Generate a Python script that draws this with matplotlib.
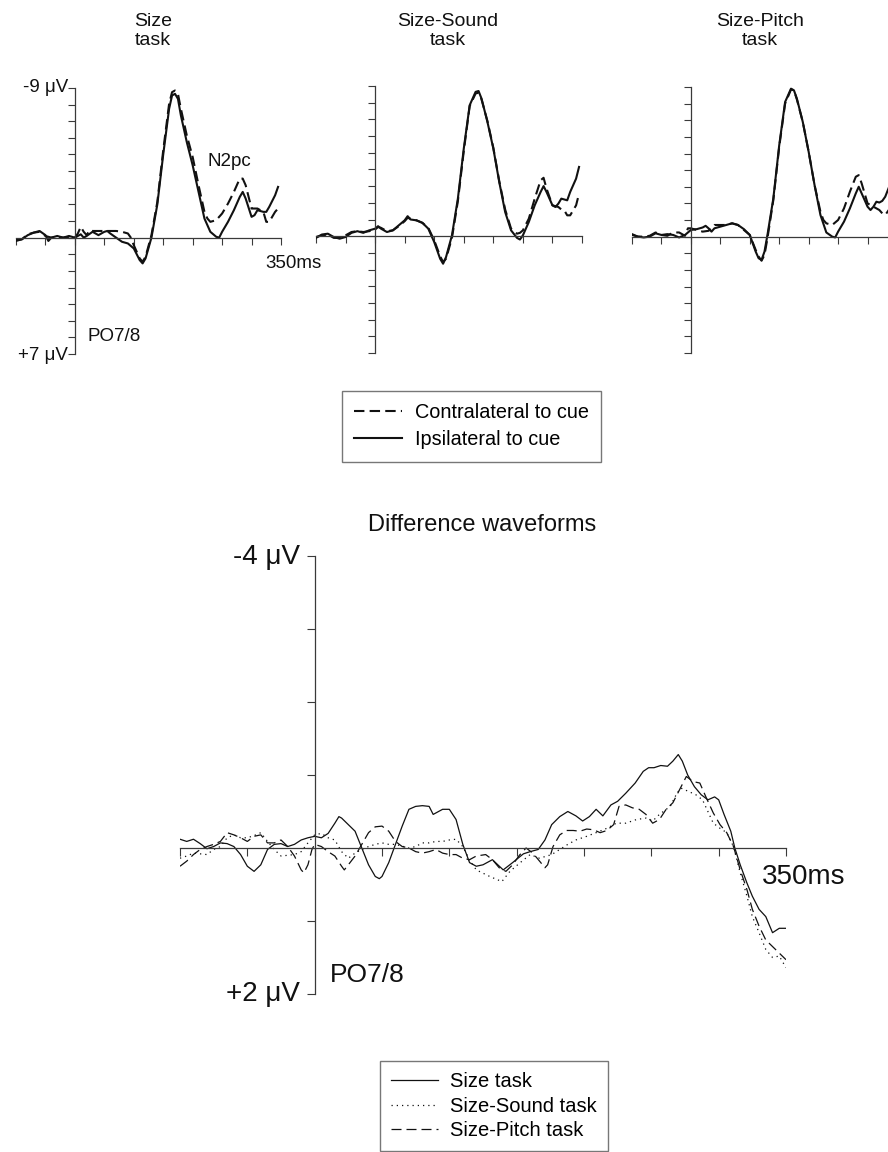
import matplotlib
matplotlib.use('Agg')
import matplotlib.pyplot as plt
import numpy as np

plt.rcParams['font.family'] = ['Liberation Sans', 'DejaVu Sans']

W, H = 888, 1152
INK = '#111111'
AXC = '#3a3a3a'

# ---- top panels: grand average ERPs at PO7/8 (uV, negative up) ----
# Size task
t_size_ipsi = [-100, -90, -80, -70, -60, -50, -45, -40, -30, -20, -10, 0, 10, 15, 20, 30, 40, 50, 55, 60,
               70, 80, 90, 100, 110, 115, 120, 130, 140, 150, 160, 165, 170, 175, 180, 190, 200, 210, 220, 230,
               240, 245, 250, 260, 270, 280, 285, 290, 300, 305, 310, 320, 325, 330, 340, 345]
size_ipsi = [0.2, 0.1, -0.15, -0.3, -0.4, -0.15, 0.2, 0, -0.1, 0, -0.1, 0, -0.2, 0, -0.1, -0.35, -0.15, -0.35, -0.4, -0.25,
             0, 0.25, 0.35, 0.65, 1.35, 1.55, 1.25, 0, -2.0, -5.0, -7.75, -8.55, -8.65, -8.35, -7.35, -5.75, -4.35, -2.75, -1.15, -0.35,
             -0.05, 0, -0.35, -0.95, -1.65, -2.45, -2.75, -2.35, -1.25, -1.35, -1.65, -1.55, -1.55, -1.85, -2.55, -3.05]
t_size_contra = [-100, -90, -80, -70, -60, -50, -40, -30, -20, -10, 0, 5, 10, 15, 20, 25, 30, 40, 50, 60,
                 70, 80, 90, 95, 100, 110, 115, 120, 130, 140, 150, 160, 165, 170, 175, 180, 190, 200, 210, 220,
                 225, 230, 240, 250, 260, 270, 280, 285, 290, 300, 310, 320, 325, 330, 340, 345]
size_contra = [0.15, 0.1, -0.2, -0.3, -0.35, -0.1, 0, -0.05, 0, -0.05, 0, -0.25, -0.65, -0.35, -0.15, -0.45, -0.4, -0.4, -0.4, -0.4,
               -0.4, -0.35, -0.25, 0, 0.45, 1.25, 1.45, 1.15, -0.15, -2.15, -5.25, -8.05, -8.75, -8.85, -8.65, -7.75, -6.15, -4.85, -3.15, -1.55,
               -1.15, -0.95, -1.05, -1.45, -2.05, -2.75, -3.55, -3.55, -3.15, -1.75, -1.75, -1.55, -0.95, -0.95, -1.55, -1.75]

# Size-Sound task
t_sound = [-100, -90, -80, -70, -60, -50, -40, -30, -20, -10, 0, 5, 10, 20, 30, 40, 50, 55, 60, 70,
           80, 90, 100, 110, 115, 120, 130, 140, 150, 160, 170, 175, 180, 190, 200, 210, 220, 230, 240, 245,
           250, 260, 270, 280, 285, 290, 300, 305, 310, 315, 320, 325, 330, 340, 345]
sound_ipsi = [0.1, -0.1, -0.15, 0.05, 0.15, 0.05, -0.2, -0.3, -0.2, -0.35, -0.45, -0.6, -0.45, -0.25, -0.35, -0.65, -0.95, -1.2, -1.0, -0.95,
              -0.8, -0.45, 0.35, 1.35, 1.65, 1.25, -0.05, -2.25, -5.25, -7.85, -8.65, -8.7, -8.25, -6.85, -5.25, -3.25, -1.45, -0.35, 0.1, 0.2,
              -0.05, -0.85, -1.85, -2.65, -3.0, -2.65, -1.85, -1.75, -1.95, -2.25, -2.2, -2.15, -2.65, -3.45, -4.15]
sound_contra = [0.05, -0.05, -0.1, 0.1, 0.1, -0.05, -0.25, -0.3, -0.25, -0.3, -0.4, -0.55, -0.5, -0.3, -0.35, -0.6, -0.9, -1.1, -1.05, -0.95,
                -0.8, -0.5, 0.25, 1.2, 1.55, 1.35, 0.1, -2.1, -5.1, -7.8, -8.55, -8.6, -8.2, -6.9, -5.3, -3.3, -1.6, -0.45, -0.15, -0.2,
                -0.35, -1.05, -2.25, -3.35, -3.5, -2.85, -1.85, -1.8, -1.75, -1.6, -1.55, -1.25, -1.25, -1.85, -2.55]

# Size-Pitch task
t_pitch_ipsi = [-100, -90, -80, -70, -60, -50, -40, -30, -20, -10, 0, 10, 20, 25, 30, 35, 40, 50, 55, 60,
                70, 80, 90, 100, 105, 110, 115, 120, 125, 130, 140, 150, 160, 170, 175, 180, 190, 200, 210, 220,
                230, 240, 245, 250, 260, 270, 280, 285, 290, 300, 305, 310, 315, 320, 325, 330, 340, 345]
pitch_ipsi = [-0.15, 0, 0.05, 0, -0.2, -0.1, -0.15, -0.1, 0.05, -0.1, -0.4, -0.45, -0.55, -0.65, -0.5, -0.3, -0.5, -0.6, -0.65, -0.7,
              -0.8, -0.7, -0.45, -0.1, 0.4, 0.9, 1.3, 1.4, 0.9, -0.1, -2.3, -5.5, -8.1, -8.9, -8.8, -8.3, -6.9, -5.1, -3.1, -1.3,
              -0.25, 0, 0.05, -0.3, -0.9, -1.7, -2.6, -3.0, -2.6, -1.8, -1.6, -1.8, -2.1, -2.05, -2.15, -2.4, -3.3, -3.7]
t_pitch_contra = [-100, -90, -80, -70, -60, -50, -40, -30, -20, -10, -5, 0, 10, 20, 30, 40, 50, 60, 70, 80,
                  90, 100, 110, 115, 120, 125, 130, 140, 150, 160, 170, 175, 180, 190, 200, 210, 220, 225, 230, 240,
                  250, 260, 270, 280, 285, 290, 300, 310, 320, 325, 330, 340, 345]
pitch_contra = [-0.1, 0, 0, -0.05, -0.25, -0.1, -0.05, -0.25, -0.25, -0.05, -0.5, -0.5, -0.4, -0.3, -0.35, -0.7, -0.7, -0.7, -0.8, -0.7,
                -0.4, -0.1, 0.8, 1.2, 1.45, 1.1, 0.1, -2.2, -5.4, -8.0, -8.85, -8.8, -8.25, -6.9, -5.1, -3.1, -1.5, -1.0, -0.8, -0.7,
                -1.0, -1.7, -2.7, -3.6, -3.7, -3.2, -2.0, -1.8, -1.6, -1.4, -1.3, -1.8, -2.4]

# ---- bottom panel: contra - ipsi difference waveforms ----
t_diff_size = [-100, -95, -90, -85, -80, -75, -70, -65, -60, -55, -50, -45, -40, -35, -30, -25, -20, -15, -10, -5,
               0, 5, 10, 15, 18, 20, 25, 30, 35, 40, 45, 48, 50, 55, 60, 65, 70, 75, 80, 85,
               88, 90, 95, 100, 105, 110, 115, 120, 125, 132, 140, 147, 155, 160, 166, 171, 176, 182, 188, 194,
               199, 204, 209, 214, 220, 225, 231, 238, 244, 248, 252, 257, 262, 266, 270, 273, 277, 282, 287, 292,
               297, 300, 304, 309, 312, 316, 321, 325, 330, 335, 340, 345, 350]
diff_size = [-0.12, -0.09, -0.12, -0.06, 0.01, -0.02, -0.07, -0.06, -0.02, 0.09, 0.25, 0.32, 0.23, 0.02, -0.05, -0.06, -0.02, -0.05, -0.11, -0.14,
             -0.16, -0.14, -0.2, -0.34, -0.43, -0.41, -0.32, -0.23, 0, 0.23, 0.39, 0.42, 0.39, 0.2, -0.05, -0.3, -0.53, -0.57, -0.58, -0.57,
             -0.46, -0.48, -0.53, -0.53, -0.39, -0.05, 0.2, 0.25, 0.23, 0.16, 0.3, 0.2, 0.08, 0.05, 0.02, -0.11, -0.32, -0.43, -0.5, -0.44,
             -0.37, -0.43, -0.53, -0.44, -0.59, -0.64, -0.75, -0.89, -1.05, -1.1, -1.1, -1.13, -1.12, -1.19, -1.28, -1.19, -1.0, -0.84, -0.73, -0.66,
             -0.7, -0.66, -0.46, -0.23, 0, 0.23, 0.48, 0.66, 0.84, 0.94, 1.16, 1.1, 1.1]
t_diff_sound = [-100, -95, -90, -85, -80, -75, -70, -65, -60, -55, -50, -45, -40, -35, -30, -25, -20, -15, -10, -5,
                0, 5, 10, 15, 20, 25, 30, 35, 40, 45, 50, 55, 60, 70, 75, 80, 85, 90, 95, 100,
                105, 110, 115, 120, 130, 139, 145, 152, 160, 167, 176, 182, 188, 194, 202, 209, 217, 224, 231, 239,
                246, 251, 256, 264, 269, 272, 277, 283, 288, 292, 296, 301, 306, 311, 316, 321, 325, 330, 335, 340,
                345, 350]
diff_sound = [0.14, 0.11, 0.07, 0.08, 0.09, 0.02, -0.02, -0.14, -0.18, -0.14, -0.14, -0.17, -0.21, -0.09, 0.02, 0.11, 0.1, 0.09, 0.05, -0.07,
              -0.18, -0.2, -0.14, -0.11, 0.05, 0.14, 0.07, 0.02, -0.02, -0.05, -0.07, -0.05, -0.05, 0, -0.02, -0.07, -0.07, -0.09, -0.09, -0.11,
              -0.12, -0.02, 0.16, 0.3, 0.39, 0.46, 0.32, 0.21, 0.09, 0.14, 0.09, 0.02, -0.05, -0.11, -0.16, -0.21, -0.27, -0.34, -0.34, -0.39,
              -0.41, -0.37, -0.46, -0.57, -0.75, -0.82, -0.78, -0.73, -0.66, -0.5, -0.34, -0.27, -0.21, -0.02, 0.34, 0.66, 0.94, 1.16, 1.39, 1.5,
              1.48, 1.64]
t_diff_pitch = [-100, -95, -90, -85, -80, -75, -70, -65, -60, -55, -50, -45, -40, -35, -30, -25, -20, -15, -10, -8,
                -5, -2, 0, 5, 10, 15, 20, 22, 25, 30, 35, 40, 45, 50, 55, 60, 65, 70, 75, 80,
                85, 90, 95, 100, 105, 110, 115, 120, 127, 132, 137, 142, 147, 152, 157, 162, 167, 171, 173, 177,
                182, 187, 192, 197, 202, 207, 212, 217, 222, 226, 231, 236, 241, 246, 251, 256, 261, 266, 271, 276,
                281, 286, 291, 296, 301, 306, 311, 316, 321, 325, 330, 335, 340, 345, 350]
diff_pitch = [0.25, 0.18, 0.09, 0.02, -0.02, -0.05, -0.09, -0.21, -0.18, -0.14, -0.09, -0.16, -0.18, -0.07, -0.07, -0.11, -0.02, 0.11, 0.3, 0.34,
              0.23, 0.02, -0.05, -0.02, 0.05, 0.11, 0.25, 0.3, 0.23, 0.11, -0.05, -0.21, -0.29, -0.3, -0.23, -0.09, -0.02, 0, 0.05, 0.07,
              0.05, 0.02, 0.07, 0.09, 0.09, 0.14, 0.16, 0.11, 0.09, 0.16, 0.27, 0.32, 0.23, 0.1, 0.0, 0.07, 0.18, 0.27, 0.23, -0.02,
              -0.18, -0.24, -0.24, -0.23, -0.26, -0.25, -0.21, -0.24, -0.32, -0.57, -0.59, -0.55, -0.53, -0.46, -0.34, -0.39, -0.53, -0.62, -0.8, -0.98,
              -0.91, -0.89, -0.68, -0.48, -0.32, -0.21, -0.02, 0.3, 0.57, 0.84, 1.07, 1.26, 1.35, 1.44, 1.53]

fig = plt.figure(figsize=(W / 100, H / 100), dpi=100)


def px_axes(left, top, right, bottom):
    return fig.add_axes([left / W, 1 - bottom / H, (right - left) / W, (bottom - top) / H])


def ftext(x, y, s, **kw):
    fig.text(x / W, 1 - y / H, s, **kw)


def erp_axes(ax, ylo, yhi, ticklen):
    ax.set_xlim(-100, 350)
    ax.set_ylim(yhi, ylo)   # negative up
    for side in ('top', 'right'):
        ax.spines[side].set_visible(False)
    for side in ('left', 'bottom'):
        ax.spines[side].set_position(('data', 0))
        ax.spines[side].set_color(AXC)
        ax.spines[side].set_linewidth(0.9)
    ax.set_xticks(np.arange(-100, 351, 50))
    ax.set_yticks(np.arange(ylo, yhi + 1, 1))
    ax.tick_params(direction='out', length=ticklen, width=0.8, color=AXC,
                   labelbottom=False, labelleft=False)
    ax.patch.set_alpha(0)


DASH_TOP = (0, (5, 2.5))
top_panels = [
    ((16, 88, 281, 354), t_size_contra, size_contra, t_size_ipsi, size_ipsi),
    ((316, 86, 582, 353), t_sound, sound_contra, t_sound, sound_ipsi),
    ((632, 87, 897, 353), t_pitch_contra, pitch_contra, t_pitch_ipsi, pitch_ipsi),
]
top_handles = None
for box, tc, vc, ti, vi in top_panels:
    ax = px_axes(*box)
    erp_axes(ax, -9, 7, 5)
    lc, = ax.plot(tc, vc, color=INK, lw=1.5, ls=DASH_TOP, label='Contralateral to cue')
    li, = ax.plot(ti, vi, color=INK, lw=1.5, ls='-', label='Ipsilateral to cue')
    if top_handles is None:
        top_handles = [lc, li]

# titles and labels, top
for x, s in [(153, 'Size\ntask'), (448, 'Size-Sound\ntask'), (760, 'Size-Pitch\ntask')]:
    ftext(x, 31, s, ha='center', va='center', fontsize=14, linespacing=1.1, color=INK)
ftext(68, 88, '-9 μV', ha='right', va='center', fontsize=13.5, color=INK)
ftext(68, 355, '+7 μV', ha='right', va='center', fontsize=13.5, color=INK)
ftext(207, 161, 'N2pc', ha='left', va='center', fontsize=13.5, color=INK)
ftext(87, 336, 'PO7/8', ha='left', va='center', fontsize=13.5, color=INK)
ftext(265, 263, '350ms', ha='left', va='center', fontsize=13.5, color=INK)

leg1 = fig.legend(top_handles, [h.get_label() for h in top_handles],
                  loc='upper left', bbox_to_anchor=(342 / W, 1 - 391 / H), borderaxespad=0,
                  fontsize=14.3, frameon=True, fancybox=False, handlelength=2.4,
                  handletextpad=0.65, borderpad=0.62, labelspacing=0.4)
leg1.get_frame().set_edgecolor('#555555')
leg1.get_frame().set_linewidth(1.0)

# bottom panel
axd = px_axes(180, 556, 786, 994)
erp_axes(axd, -4, 2, 6)
h1, = axd.plot(t_diff_size, diff_size, color=INK, lw=0.9, ls='-', label='Size task')
h2, = axd.plot(t_diff_sound, diff_sound, color=INK, lw=0.9, ls=(0, (1, 3.2)), label='Size-Sound task')
h3, = axd.plot(t_diff_pitch, diff_pitch, color=INK, lw=0.9, ls=(0, (8, 4)), label='Size-Pitch task')

ftext(482, 525, 'Difference waveforms', ha='center', va='center', fontsize=17, color=INK)
ftext(300, 557, '-4 μV', ha='right', va='center', fontsize=20, color=INK)
ftext(300, 994, '+2 μV', ha='right', va='center', fontsize=20, color=INK)
ftext(762, 877, '350ms', ha='left', va='center', fontsize=20, color=INK)
ftext(330, 975, 'PO7/8', ha='left', va='center', fontsize=19, color=INK)

leg2 = fig.legend([h1, h2, h3], ['Size task', 'Size-Sound task', 'Size-Pitch task'],
                  loc='upper left', bbox_to_anchor=(380 / W, 1 - 1061 / H), borderaxespad=0,
                  fontsize=14.5, frameon=True, fancybox=False, handlelength=2.35,
                  handletextpad=0.6, borderpad=0.55, labelspacing=0.28)
leg2.get_frame().set_edgecolor('#555555')
leg2.get_frame().set_linewidth(1.0)

fig.savefig('out.png', dpi=100, facecolor='white')
